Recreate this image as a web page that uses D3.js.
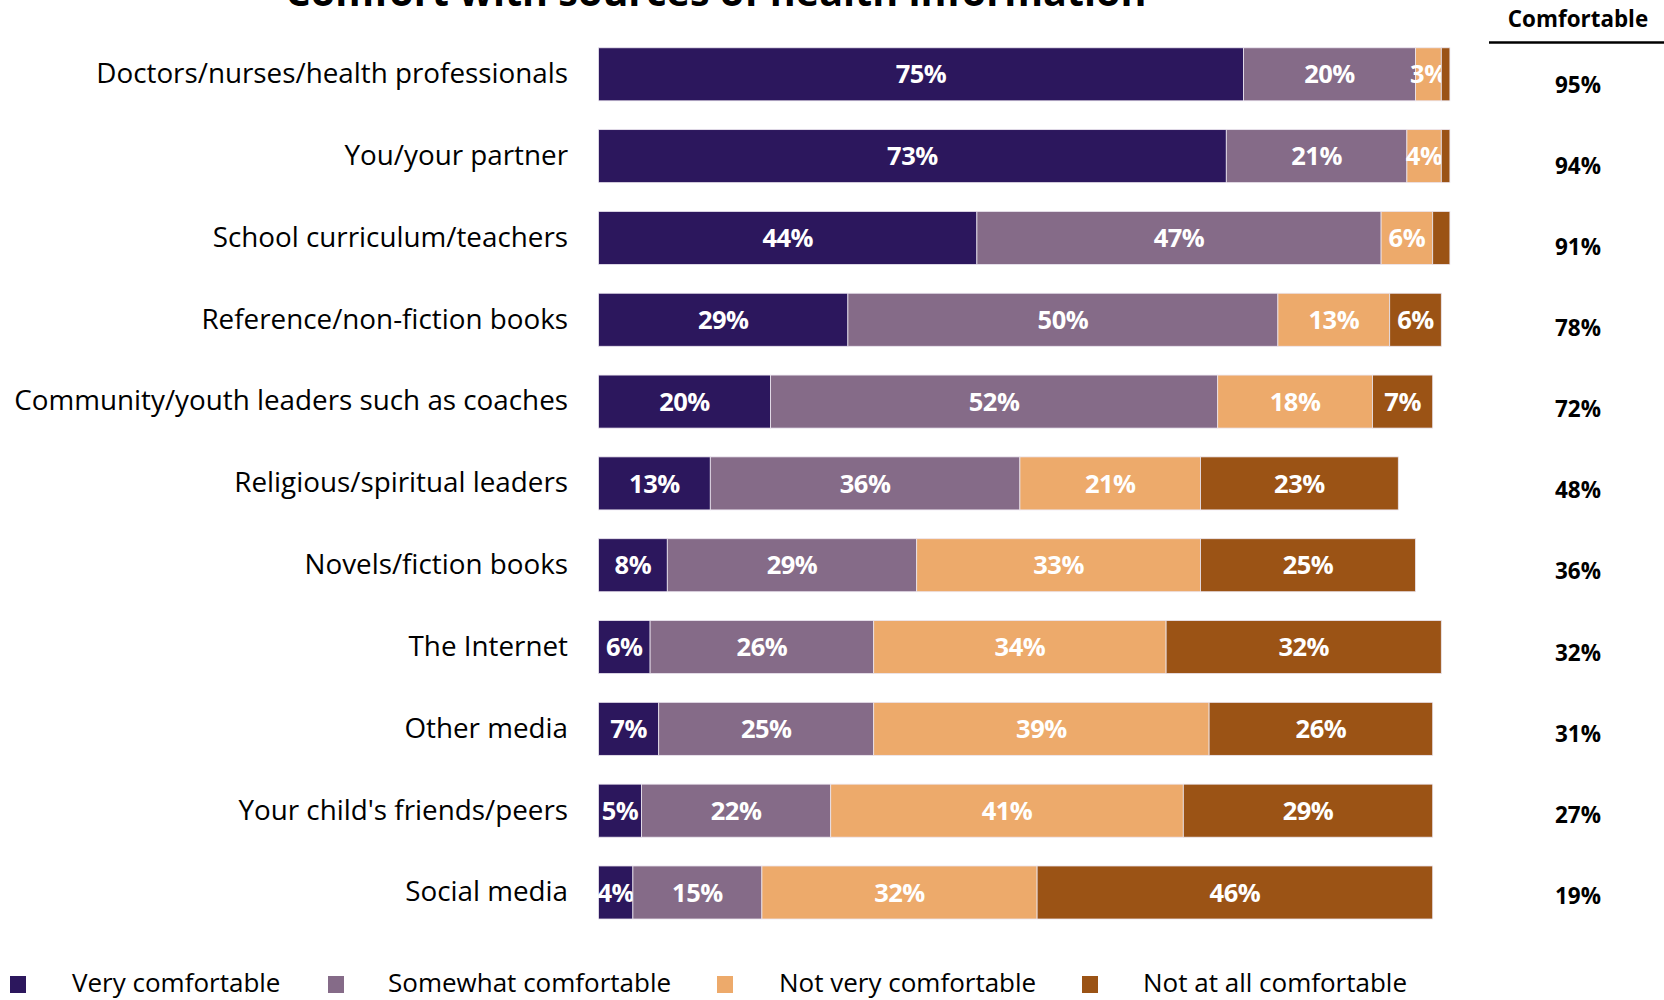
<!DOCTYPE html>
<html>
<head>
<meta charset="utf-8">
<script src="https://cdn.jsdelivr.net/npm/d3@7"></script>
<style>
  html, body { margin: 0; padding: 0; background: #ffffff; }
  svg { display: block; }
  text { font-family: "Open Sans", "Noto Sans", sans-serif; }
</style>
</head>
<body>
<svg id="chart" width="1664" height="1000"></svg>
<script>
// Sources of health information, top to bottom
const categories = [
  "Doctors/nurses/health professionals",
  "You/your partner",
  "School curriculum/teachers",
  "Reference/non-fiction books",
  "Community/youth leaders such as coaches",
  "Religious/spiritual leaders",
  "Novels/fiction books",
  "The Internet",
  "Other media",
  "Your child's friends/peers",
  "Social media"
];

const seriesNames = ["Very comfortable", "Somewhat comfortable", "Not very comfortable", "Not at all comfortable"];

// Percent of respondents per answer, one entry per source
const veryComfortable     = [75, 73, 44, 29, 20, 13,  8,  6,  7,  5,  4];
const somewhatComfortable = [20, 21, 47, 50, 52, 36, 29, 26, 25, 22, 15];
const notVeryComfortable  = [ 3,  4,  6, 13, 18, 21, 33, 34, 39, 41, 32];
const notAtAllComfortable = [ 1,  1,  2,  6,  7, 23, 25, 32, 26, 29, 46];

// Net "comfortable" share shown in the right-hand column
const comfortableTotal = [95, 94, 91, 78, 72, 48, 36, 32, 31, 27, 19];

const colors = ["#2c175d", "#856b88", "#edaa6b", "#9b5315"];

const svg = d3.select("#chart");

// Stack the four answer series
const rows = categories.map((c, i) => ({
  category: c,
  "Very comfortable": veryComfortable[i],
  "Somewhat comfortable": somewhatComfortable[i],
  "Not very comfortable": notVeryComfortable[i],
  "Not at all comfortable": notAtAllComfortable[i]
}));
const stacked = d3.stack().keys(seriesNames)(rows);

const x = d3.scaleLinear().domain([0, 100]).range([598.5, 1458.5]);
const y = d3.scaleBand().domain(categories).range([47.8, 919]).paddingInner(0.352).paddingOuter(0);
const yRight = d3.scalePoint().domain(categories).range([85, 895.6]);
const color = d3.scaleOrdinal().domain(seriesNames).range(colors);

// Title (runs off the top edge)
svg.append("text")
  .attr("x", 716)
  .attr("y", 6)
  .attr("text-anchor", "middle")
  .attr("font-size", 39.5)
  .attr("font-weight", 700)
  .attr("fill", "#000")
  .text("Comfort with sources of health information");

// Bars
const layers = svg.append("g").selectAll("g")
  .data(stacked)
  .join("g")
  .attr("fill", d => color(d.key));

layers.selectAll("rect")
  .data(d => d)
  .join("rect")
  .attr("x", d => x(d[0]))
  .attr("y", d => y(d.data.category))
  .attr("width", d => x(d[1]) - x(d[0]))
  .attr("height", y.bandwidth())
  .attr("stroke", "#ece6f0")
  .attr("stroke-width", 0.8);

// Segment value labels
layers.selectAll("text")
  .data(d => d.map(s => ({ s, v: s[1] - s[0] })))
  .join("text")
  .filter(d => d.v >= 3)
  .attr("x", d => (x(d.s[0]) + x(d.s[1])) / 2)
  .attr("y", d => y(d.s.data.category) + y.bandwidth() / 2)
  .attr("dy", "0.36em")
  .attr("text-anchor", "middle")
  .attr("font-size", 25.5)
  .attr("font-weight", 700)
  .attr("letter-spacing", -0.5)
  .attr("fill", "#ffffff")
  .text(d => d.v + "%");

// Category axis labels
const yAxis = d3.axisLeft(y).tickSize(0).tickPadding(0);
const yAxisG = svg.append("g")
  .attr("transform", "translate(568,0)")
  .call(yAxis);
yAxisG.select(".domain").remove();
yAxisG.selectAll("text")
  .attr("font-size", 27.8)
  .attr("fill", "#000")
  .attr("font-family", "'Open Sans', sans-serif");

// Right-hand "Comfortable" column
svg.append("text")
  .attr("x", 1578)
  .attr("y", 27)
  .attr("text-anchor", "middle")
  .attr("font-size", 22.4)
  .attr("font-weight", 700)
  .attr("fill", "#000")
  .text("Comfortable");

svg.append("line")
  .attr("x1", 1489).attr("x2", 1664)
  .attr("y1", 42.5).attr("y2", 42.5)
  .attr("stroke", "#000")
  .attr("stroke-width", 2.5);

svg.append("g").selectAll("text")
  .data(categories)
  .join("text")
  .attr("x", 1578)
  .attr("y", d => yRight(d))
  .attr("dy", "0.36em")
  .attr("text-anchor", "middle")
  .attr("font-size", 22.5)
  .attr("font-weight", 700)
  .attr("fill", "#000")
  .text((d, i) => comfortableTotal[i] + "%");

// Legend
const legendSwatchX = [10, 328, 717, 1082];
const legendTextX = [72, 388, 779, 1143];
const legend = svg.append("g").selectAll("g")
  .data(seriesNames)
  .join("g");
legend.append("rect")
  .attr("x", (d, i) => legendSwatchX[i])
  .attr("y", 976)
  .attr("width", 16)
  .attr("height", 17)
  .attr("fill", d => color(d));
legend.append("text")
  .attr("x", (d, i) => legendTextX[i])
  .attr("y", 983)
  .attr("dy", "0.36em")
  .attr("font-size", 26)
  .attr("fill", "#000")
  .text(d => d);
</script>
</body>
</html>
